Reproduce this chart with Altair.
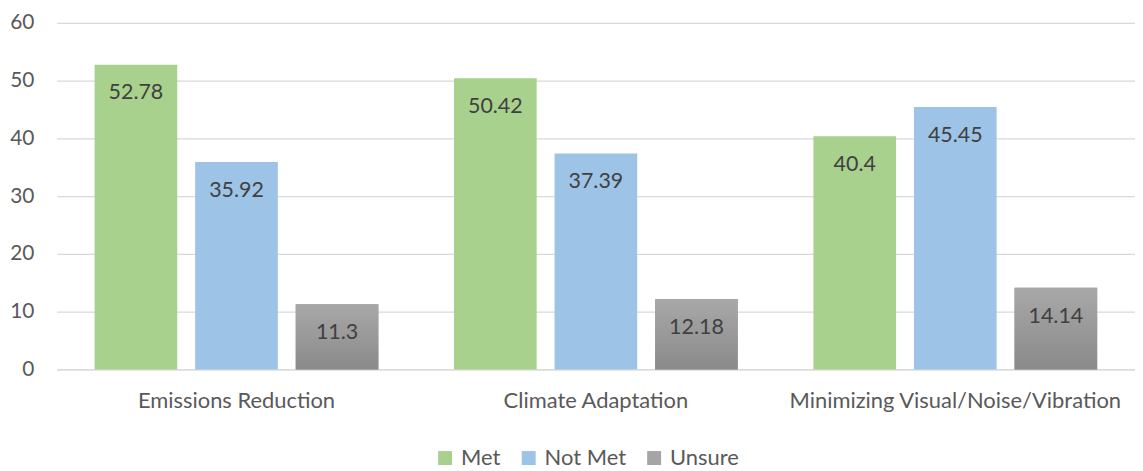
import altair as alt
import pandas as pd

categories = ["Emissions Reduction", "Climate Adaptation", "Minimizing Visual/Noise/Vibration"]
series = ["Met", "Not Met", "Unsure"]
met = [52.78, 50.42, 40.4]
not_met = [35.92, 37.39, 45.45]
unsure = [11.3, 12.18, 14.14]
colors = ["#a9d18e", "#9dc3e6", "#a5a5a5"]

rows = []
for i, c in enumerate(categories):
    for s, vals in zip(series, [met, not_met, unsure]):
        rows.append({"category": c, "series": s, "value": vals[i]})
df = pd.DataFrame(rows)

FONT = "Lato"
FS = 22
x = alt.X("category:N", sort=categories, title=None,
          scale=alt.Scale(paddingInner=0, paddingOuter=0),
          axis=alt.Axis(labelAngle=0, labelFontSize=FS, labelColor="#595959", labelFont=FONT,
                        ticks=False, domainColor="#d9d9d9", labelPadding=21, grid=False,
                        labelLimit=0))
xo = alt.XOffset("series:N", sort=series,
                 scale=alt.Scale(paddingInner=0.178, paddingOuter=0.376))
y = alt.Y("value:Q", title=None,
          scale=alt.Scale(domain=[0, 60]),
          axis=alt.Axis(values=[0, 10, 20, 30, 40, 50, 60], labelFontSize=21, labelColor="#595959",
                        labelFont=FONT, ticks=False, domain=False, gridColor="#d9d9d9",
                        gridWidth=1.3, labelPadding=23))

bars = alt.Chart(df).mark_bar().encode(
    x=x, xOffset=xo, y=y,
    color=alt.Color("series:N", sort=series,
                    scale=alt.Scale(domain=series, range=colors),
                    legend=alt.Legend(title=None, orient="none", direction="horizontal",
                                      legendX=379, legendY=426, symbolType="square",
                                      symbolSize=196, symbolStrokeWidth=0, labelFontSize=FS,
                                      labelFont=FONT, labelColor="#595959", columnPadding=17,
                                      labelOffset=5, symbolOpacity=1)),
)

grad = alt.Chart(df).transform_filter(alt.datum.series == "Unsure").mark_bar(
    color=alt.Gradient(gradient="linear", x1=0, x2=0, y1=0, y2=1,
                       stops=[alt.GradientStop(color="#a8a8a8", offset=0),
                              alt.GradientStop(color="#8a8a8a", offset=1)])
).encode(x=x, xOffset=xo, y=y)

labels = alt.Chart(df).mark_text(dy=29, baseline="middle", fontSize=21.5, font=FONT,
                                 color="#404040").encode(
    x=x, xOffset=xo, y=y, text=alt.Text("value:Q"))

chart = alt.layer(bars, grad, labels).properties(
    width=1083, height=348,
    autosize=alt.AutoSizeParams(type="none"),
    padding={"left": 49, "top": 14, "right": 0, "bottom": 100},
).configure_view(stroke=None)

chart.save("out.html", embed_options={"renderer": "svg", "actions": False})
